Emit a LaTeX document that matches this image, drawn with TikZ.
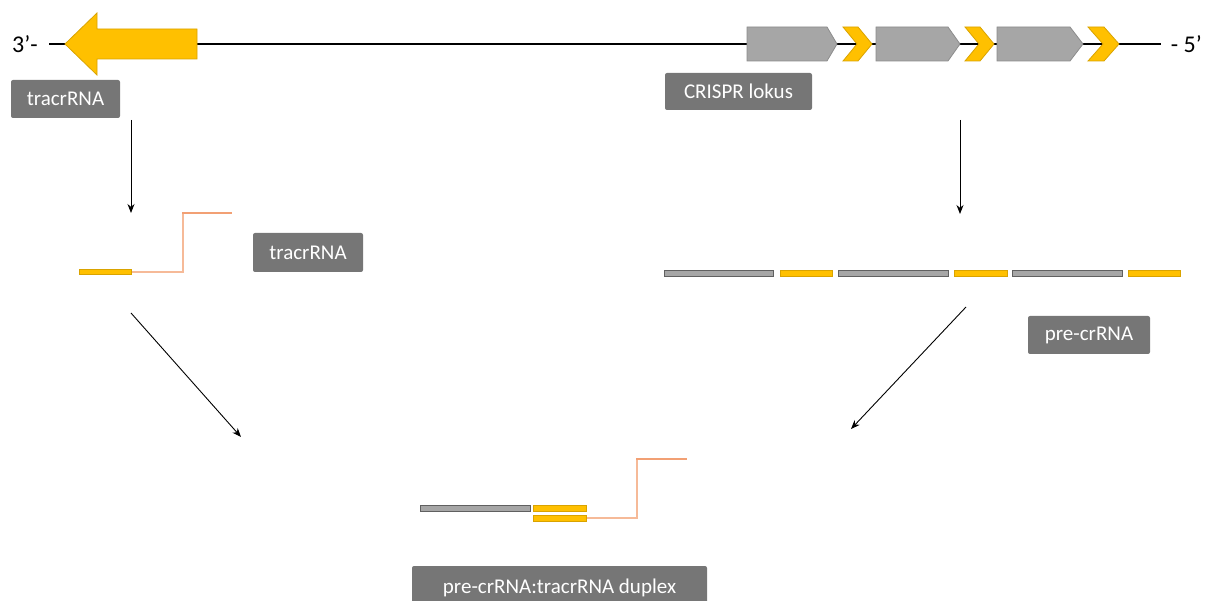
\documentclass[tikz,border=0pt]{standalone}
\usepackage{fontspec}
\setmainfont{Carlito}
\usetikzlibrary{arrows.meta}
\definecolor{lblgray}{HTML}{767676}
\definecolor{genegray}{HTML}{A6A6A6}
\definecolor{geneedge}{HTML}{8C8C8C}
\definecolor{rptyellow}{HTML}{FFC000}
\definecolor{rptedge}{HTML}{D9A300}
\definecolor{tracrlight}{HTML}{F6BA98}
\definecolor{tracrdark}{HTML}{F2A074}
\tikzset{
  lbl/.style={fill=lblgray, text=white, rounded corners=2pt, inner sep=0pt,
    font=\fontsize{21}{25}\selectfont},
  gene/.style={fill=genegray, draw=geneedge, line width=0.8pt},
  rpt/.style={fill=rptyellow, draw=rptedge, line width=0.8pt},
  graybar/.style={fill=genegray, draw=gray!75!black, line width=0.8pt},
  ylwbar/.style={fill=rptyellow, draw=rptedge, line width=0.8pt},
  tracrlo/.style={draw=tracrlight, line width=2pt},
  tracrhi/.style={draw=tracrdark, line width=1.6pt},
  flow/.style={draw=black, line width=0.9pt, -{Stealth[length=9pt,width=7pt]}},
  endtxt/.style={font=\fontsize{24}{28}\selectfont, inner sep=0pt}
}
\begin{document}
\begin{tikzpicture}[x=1pt, y=-1pt]
\useasboundingbox (0,0) rectangle (1208,601);

% genomic locus: backbone with strand ends
\node[endtxt, anchor=west] (e3) at (12,44) {3’-};
\node[endtxt, anchor=east] (e5) at (1202,44) {- 5’};
\coordinate (bbL) at (49,44);
\coordinate (bbR) at (1161,44);
\draw[line width=1.1pt] (bbL) -- (bbR);

% tracrRNA gene (leftward arrow)
\draw[rpt] (65,44) -- (97,13) -- (97,29) -- (197,29) -- (197,59) -- (97,59) -- (97,75) -- cycle;

% CRISPR array: spacers (grey) and repeats (yellow chevrons)
\draw[gene] (747,27) -- (827,27) -- (837,44) -- (827,61) -- (747,61) -- cycle;
\draw[rpt] (843,27) -- (858,27) -- (872,44) -- (858,61) -- (843,61) -- (857,44) -- cycle;
\draw[gene] (876,27) -- (948,27) -- (960,44) -- (948,61) -- (876,61) -- cycle;
\draw[rpt] (965,27) -- (980,27) -- (994,44) -- (980,61) -- (965,61) -- (979,44) -- cycle;
\draw[gene] (997,27) -- (1070,27) -- (1083,44) -- (1070,61) -- (997,61) -- cycle;
\draw[rpt] (1088,27) -- (1104,27) -- (1119,44) -- (1104,61) -- (1088,61) -- (1103,44) -- cycle;

% labels
\node[lbl, minimum width=109pt, minimum height=38pt] (lTracr) at (65.5,99) {tracrRNA};
\node[lbl, minimum width=147pt, minimum height=37pt] (lLocus) at (738.5,91.5) {CRISPR lokus};
\node[lbl, minimum width=110pt, minimum height=39pt] (lTracr2) at (308,252.5) {tracrRNA};
\node[lbl, minimum width=122pt, minimum height=38pt] (lPre) at (1089,335) {pre-crRNA};
\node[lbl, minimum width=295pt, minimum height=44pt] (lDuplex) at (559.5,588) {pre-crRNA:tracrRNA duplex};

% mature tracrRNA
\draw[tracrlo] (131,272) -- (183,272) -- (183,213);
\draw[tracrhi] (182,213) -- (232,213);
\draw[ylwbar] (79,269) rectangle (131,274);

% pre-crRNA transcript
\draw[graybar] (664,270.5) rectangle (773.5,276.5);
\draw[ylwbar] (780,270.5) rectangle (832,276.5);
\draw[graybar] (838,270.5) rectangle (948,276.5);
\draw[ylwbar] (954,270.5) rectangle (1007,276.5);
\draw[graybar] (1012,270.5) rectangle (1122,276.5);
\draw[ylwbar] (1128.5,270.5) rectangle (1180.5,276.5);

% duplex
\draw[graybar] (420,505) rectangle (530,511);
\draw[tracrlo] (586,518) -- (637,518) -- (637,459);
\draw[tracrhi] (636,459) -- (687,459);
\draw[ylwbar] (533,505) rectangle (586,511);
\draw[ylwbar] (533,515) rectangle (586,521);

% process arrows
\coordinate (a1s) at (131,120);
\coordinate (a1e) at (131,213);
\coordinate (a2s) at (960,120);
\coordinate (a2e) at (960,214);
\coordinate (a3s) at (131,313);
\coordinate (a3e) at (241,437);
\coordinate (a4s) at (966,307);
\coordinate (a4e) at (851,429);
\draw[flow] (a1s) -- (a1e);
\draw[flow] (a2s) -- (a2e);
\draw[flow] (a3s) -- (a3e);
\draw[flow] (a4s) -- (a4e);
\end{tikzpicture}
\end{document}
